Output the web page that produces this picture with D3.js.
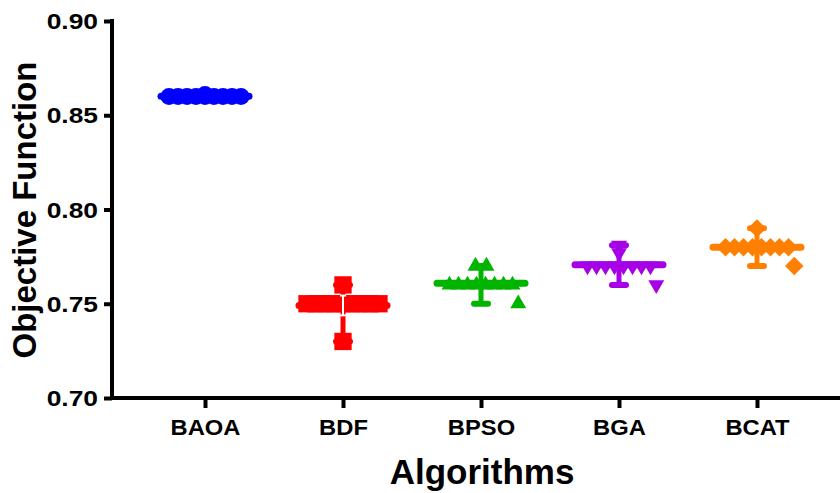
<!DOCTYPE html>
<html><head><meta charset="utf-8">
<script src="https://cdn.jsdelivr.net/npm/d3@7"></script>
<style>html,body{margin:0;padding:0;background:#fff;overflow:hidden}</style>
</head><body><svg id="c" width="840" height="493"></svg>
<script>
// ---- data ----
const categories = ["BAOA", "BDF", "BPSO", "BGA", "BCAT"];
const baoaValues = [0.86,0.86,0.86,0.86,0.86,0.86,0.86,0.86,0.86,0.861];
const bdfValues  = [0.75,0.75,0.75,0.75,0.75,0.75,0.75,0.75,0.75,0.76,0.73];
const bpsoValues = [0.76,0.76,0.76,0.76,0.76,0.76,0.76,0.76,0.77,0.77,0.75];
const bgaValues  = [0.77,0.77,0.77,0.77,0.77,0.77,0.77,0.77,0.781,0.777,0.76];
const bcatValues = [0.78,0.78,0.78,0.78,0.78,0.78,0.78,0.78,0.79,0.77];
const yTicks = [0.70, 0.75, 0.80, 0.85, 0.90];
const colors = ["#0000ff", "#ff0000", "#00b400", "#a600e6", "#ff8000"];
const symbolTypes = ["circle", "square", "triangle", "triangleDown", "diamond"];

const series = [baoaValues, bdfValues, bpsoValues, bgaValues, bcatValues];

const svg = d3.select("#c");
const x = d3.scalePoint().domain(categories).range([112, 850]).padding(0.674);
const y = d3.scaleLinear().domain([0.70, 0.90]).range([398, 21]);
const font = "'Liberation Sans', Arial, Helvetica, sans-serif";

function symbolPath(type) {
  if (type === "circle") return d3.symbol(d3.symbolCircle, 227)();
  if (type === "square") return d3.symbol(d3.symbolSquare, 300)();
  if (type === "triangle") return d3.symbol(d3.symbolTriangle, 110)();
  if (type === "triangleDown") return d3.symbol(d3.symbolTriangle, 110)();
  return d3.symbol(d3.symbolSquare, 170)();
}
function symbolRotate(type) {
  if (type === "triangleDown") return 180;
  if (type === "diamond") return 45;
  return 0;
}

// swarm layout: equal values spread horizontally; singleton minimum next to row shifted aside
function layout(vals) {
  const groups = d3.groups(vals, v => v);
  const mode = groups.reduce((a, b) => (b[1].length > a[1].length ? b : a))[0];
  const mn = d3.min(vals);
  const pts = [];
  const spacing = 9;
  groups.forEach(([v, arr]) => {
    const n = arr.length;
    let shift = 0;
    if (n === 1 && v === mn && Math.abs(mode - mn) < 0.0105 && v !== mode) shift = x.step() * 0.27;
    const sp = n <= 2 ? 11 : spacing;
    arr.forEach((d, i) => pts.push({ v: d, dx: (i - (n - 1) / 2) * sp + shift }));
  });
  return pts;
}

// y axis
const yAxis = svg.append("g").attr("transform", "translate(112,0)")
  .call(d3.axisLeft(y).tickValues(yTicks).tickSize(8).tickSizeOuter(0).tickFormat(d3.format(".2f")));
yAxis.select(".domain").attr("stroke", "#000").attr("stroke-width", 4).attr("d", `M0,${y(0.90) - 2}V${y(0.70)}`);
yAxis.selectAll(".tick line").attr("stroke", "#000").attr("stroke-width", 4);
yAxis.selectAll(".tick text").each(function(d) {
  const t = d3.select(this);
  t.attr("x", null).attr("dy", null).text(null);
  t.attr("transform", `translate(-14,${0}) scale(1.2,1)`)
   .attr("text-anchor", "end").attr("dominant-baseline", "central")
   .attr("font-family", font).attr("font-weight", "bold").attr("font-size", 22).attr("fill", "#000")
   .text(d3.format(".2f")(d));
});

// x axis
const xAxis = svg.append("g").attr("transform", "translate(0,398)")
  .call(d3.axisBottom(x).tickSize(10).tickSizeOuter(0));
xAxis.select(".domain").attr("stroke", "#000").attr("stroke-width", 4).attr("d", "M110,0H850");
xAxis.selectAll(".tick line").attr("stroke", "#000").attr("stroke-width", 4);
xAxis.selectAll(".tick text").each(function(d) {
  const t = d3.select(this);
  t.attr("y", null).attr("dy", null).text(null);
  t.attr("transform", `translate(0,37) scale(1.08,1)`)
   .attr("text-anchor", "middle")
   .attr("font-family", font).attr("font-weight", "bold").attr("font-size", 22).attr("fill", "#000")
   .text(d);
});

// axis titles
svg.append("text").attr("transform", `translate(36,210) rotate(-90)`)
  .attr("text-anchor", "middle").attr("font-family", font).attr("font-weight", "bold")
  .attr("font-size", 33).attr("fill", "#000").text("Objective Function");
svg.append("text").attr("x", 482).attr("y", 484)
  .attr("text-anchor", "middle").attr("font-family", font).attr("font-weight", "bold")
  .attr("font-size", 35).attr("fill", "#000").text("Algorithms");

// groups
series.forEach((vals, i) => {
  const cat = categories[i];
  const cx = x(cat);
  const col = colors[i];
  const g = svg.append("g");
  const mean = d3.mean(vals), mn = d3.min(vals), mx = d3.max(vals);
  // mean line
  g.append("line").attr("x1", cx - 44).attr("x2", cx + 44).attr("y1", y(mean)).attr("y2", y(mean))
    .attr("stroke", col).attr("stroke-width", 7).attr("stroke-linecap", "round");
  // range bar
  g.append("line").attr("x1", cx).attr("x2", cx).attr("y1", y(mn)).attr("y2", y(mx))
    .attr("stroke", col).attr("stroke-width", 5);
  [mn, mx].forEach(v => g.append("line").attr("x1", cx - 7).attr("x2", cx + 7)
    .attr("y1", y(v)).attr("y2", y(v)).attr("stroke", col).attr("stroke-width", 6).attr("stroke-linecap", "round"));
  // points
  const pts = layout(vals);
  g.selectAll("path.pt").data(pts).join("path").attr("class", "pt")
    .attr("d", symbolPath(symbolTypes[i]))
    .attr("transform", d => `translate(${cx + d.dx},${y(d.v)}) rotate(${symbolRotate(symbolTypes[i])})`)
    .attr("fill", col);
  // SD bar (white) for BDF
  if (cat === "BDF") {
    const sd = d3.deviation(vals) * 0.75;
    const w = svg.append("g");
    w.append("line").attr("x1", cx).attr("x2", cx).attr("y1", y(mean - sd)).attr("y2", y(mean + sd))
      .attr("stroke", "#fff").attr("stroke-width", 2);
    [mean - sd, mean + sd].forEach(v => w.append("line").attr("x1", cx - 3).attr("x2", cx + 3)
      .attr("y1", y(v)).attr("y2", y(v)).attr("stroke", "#fff").attr("stroke-width", 2));
  }
});
</script></body></html>
